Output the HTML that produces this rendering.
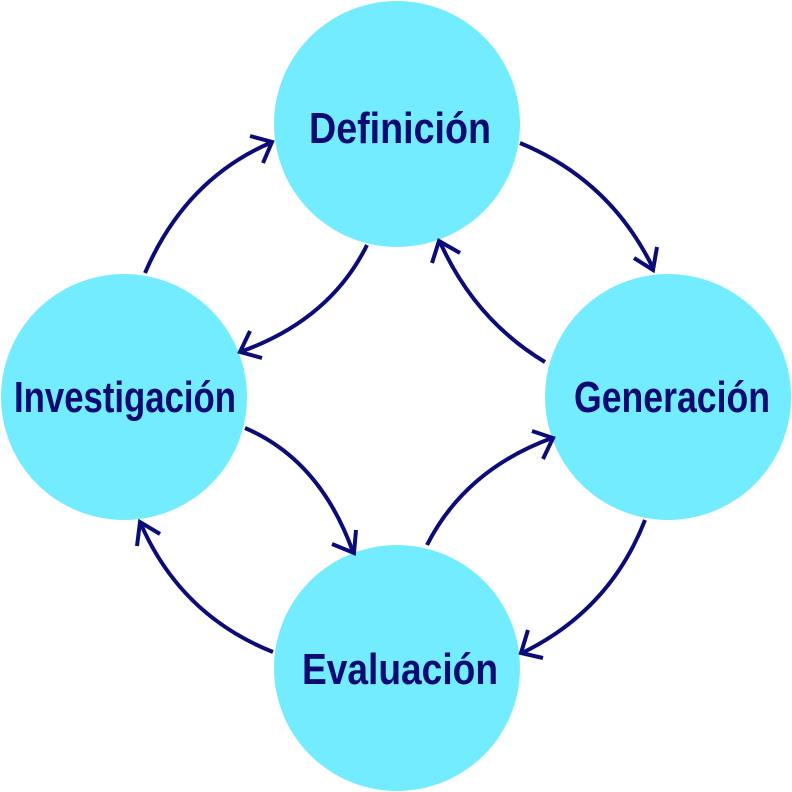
<!DOCTYPE html>
<html><head><meta charset="utf-8"><style>
html,body{margin:0;padding:0;background:#fff;}
svg{display:block;}
text{font-family:"Liberation Sans Narrow","Liberation Sans",sans-serif;font-weight:bold;fill:#0b0b72;text-anchor:middle;}
</style></head><body>
<svg width="792" height="792" viewBox="0 0 792 792" xmlns="http://www.w3.org/2000/svg">
<g fill="#74ecff">
<circle cx="397" cy="124" r="123"/>
<circle cx="124" cy="397" r="123"/>
<circle cx="668" cy="397" r="123"/>
<circle cx="397" cy="668" r="123"/>
</g>
<g font-size="44">
<text x="400" y="143" textLength="182" lengthAdjust="spacingAndGlyphs">Definición</text>
<text x="125" y="412" textLength="222" lengthAdjust="spacingAndGlyphs">Investigación</text>
<text x="672" y="412" textLength="196" lengthAdjust="spacingAndGlyphs">Generación</text>
<text x="400" y="684" textLength="196" lengthAdjust="spacingAndGlyphs">Evaluación</text>
</g>
<g fill="none" stroke="#0c0c78" stroke-width="4" stroke-linecap="butt">
<path d="M145,273 Q185,180 270,143"/>
<path d="M367,245 Q330,320 240,352"/>
<path d="M520,143 Q610,180 653,268"/>
<path d="M545,362 Q475,320 440,242"/>
<path d="M245,428 Q320,460 353,552"/>
<path d="M427,545 Q465,470 552,438"/>
<path d="M645,520 Q610,610 522,653"/>
<path d="M273,652 Q180,615 140,522"/>
</g>
<g fill="none" stroke="#0c0c78" stroke-width="4">
<path d="M250,136 L272,142 L263,163"/>
<path d="M250,331 L240,352 L262,358"/>
<path d="M634,258 L653,270 L657,247"/>
<path d="M432,263 L439,241 L460,253"/>
<path d="M332,544 L354,553 L356,530"/>
<path d="M532,431 L553,438 L543,459"/>
<path d="M528,630 L521,653 L543,658"/>
<path d="M137,546 L140,522 L160,534"/>
</g>
</svg>
</body></html>
